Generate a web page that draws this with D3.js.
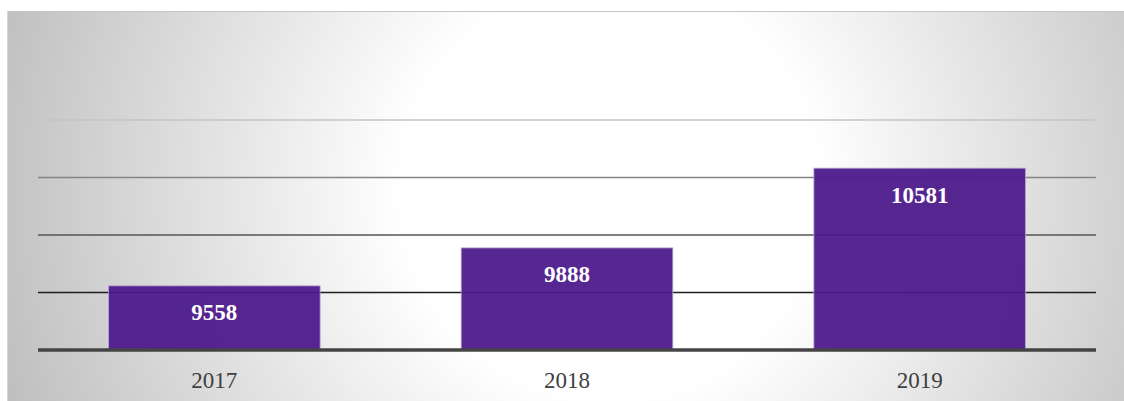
<!DOCTYPE html>
<html><head><meta charset="utf-8">
<script src="https://cdn.jsdelivr.net/npm/d3@7"></script>
<style>html,body{margin:0;padding:0;background:#fff;overflow:hidden}</style>
</head><body>
<svg id="c" width="1124" height="401"></svg>
<script>
const categories = ["2017", "2018", "2019"];
const values = [9558, 9888, 10581];
const yTicks = [9000, 9500, 10000, 10500, 11000];
const gridColors = ["#444444", "#1e1e1e", "#555555", "#858585", "#c4c4c4"];

const svg = d3.select("#c");
const defs = svg.append("defs");
const g = defs.append("radialGradient").attr("id","bg")
  .attr("gradientUnits","userSpaceOnUse")
  .attr("cx",610).attr("cy",190).attr("r",630).attr("fx",610).attr("fy",190);
g.append("stop").attr("offset","0").attr("stop-color","#ffffff");
g.append("stop").attr("offset","0.33").attr("stop-color","#ffffff");
g.append("stop").attr("offset","1").attr("stop-color","#c0c0c0");

svg.append("rect").attr("x",7).attr("y",11).attr("width",1117).attr("height",390).attr("fill","url(#bg)");
svg.append("line").attr("x1",7).attr("x2",1124).attr("y1",11.5).attr("y2",11.5).attr("stroke","#c8c8c8").attr("stroke-width",1.2);
svg.append("line").attr("x1",7.5).attr("x2",7.5).attr("y1",11).attr("y2",401).attr("stroke","#d6d6d6").attr("stroke-width",1);

const x = d3.scaleBand().domain(categories).range([38,1096]).paddingInner(0.4).paddingOuter(0.2);
const y = d3.scaleLinear().domain([9000, 11000]).range([350, 120]);

// gridlines
svg.append("g").selectAll("line").data(yTicks.slice(1)).join("line")
  .attr("x1",38).attr("x2",1096)
  .attr("y1",d=>y(d)).attr("y2",d=>y(d))
  .attr("stroke",(d,i)=>gridColors[i+1]).attr("stroke-width",1.5);

// bars
svg.append("g").selectAll("rect").data(values).join("rect")
  .attr("x",(d,i)=>x(categories[i]))
  .attr("width",x.bandwidth())
  .attr("y",d=>y(d))
  .attr("height",d=>y(9000)-y(d))
  .attr("fill","#4d1a8a").attr("fill-opacity",0.94)
  .attr("stroke","#b9a6d6").attr("stroke-width",1).attr("stroke-opacity",0.8);

// baseline
svg.append("line").attr("x1",38).attr("x2",1096).attr("y1",y(9000)).attr("y2",y(9000))
  .attr("stroke",gridColors[0]).attr("stroke-width",3.5);

// value labels
svg.append("g").selectAll("text").data(values).join("text")
  .attr("x",(d,i)=>x(categories[i])+x.bandwidth()/2)
  .attr("y",d=>y(d)+27)
  .attr("text-anchor","middle").attr("dominant-baseline","central")
  .attr("font-family","'Liberation Serif','Times New Roman',serif")
  .attr("font-weight","bold").attr("font-size",23).attr("fill","#ffffff")
  .text(d=>d);

// category labels
const xAxis = d3.axisBottom(x).tickSize(0).tickPadding(0);
const ax = svg.append("g").attr("transform",`translate(0,${y(9000)})`).call(xAxis);
ax.select(".domain").remove();
ax.selectAll("text").attr("y",30).attr("dy","0.35em")
  .attr("font-family","'Liberation Serif','Times New Roman',serif")
  .attr("font-size",23).attr("fill","#404040");
</script>
</body></html>
